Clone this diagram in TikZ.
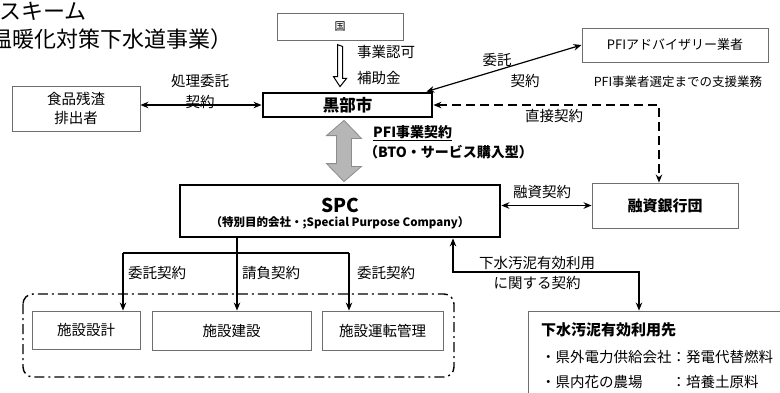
\documentclass[tikz,border=0pt]{standalone}
\usepackage{fontspec}
\setmainfont{Noto Sans CJK JP}
\usetikzlibrary{arrows.meta,calc}
\definecolor{boxline}{RGB}{110,110,110}
\definecolor{gfill}{RGB}{182,182,182}
\definecolor{gedge}{RGB}{140,140,140}
\newcommand{\fsz}[2]{\fontsize{#1pt}{#2pt}\selectfont}

\begin{document}
\begin{tikzpicture}[
		  x=1pt, y=-1pt, >={Stealth[length=8pt,width=6.5pt]},
		  box/.style={draw=boxline, line width=0.9pt, inner sep=0pt, align=center, font=\fsz{14.5}{19}},
		  mainbox/.style={draw=black, line width=2.8pt, inner sep=0pt, align=center},
		  lbl/.style={inner sep=0pt, align=center, font=\fsz{14.5}{19}},
		  conn/.style={line width=1.2pt},
		  dline/.style={line width=2pt, dash pattern=on 9pt off 5pt},
		  ddot/.style={line width=1.4pt, dash pattern=on 10pt off 4pt on 2pt off 4pt, rounded corners=10pt},
		  blockarrow/.style={draw=gedge, fill=gfill, line width=0.8pt},
		  hollowarrow/.style={draw=black, fill=white, line width=1pt}
		]
		\useasboundingbox (0,0) rectangle (780,392);
		
		\node[lbl, anchor=west, font=\fsz{22}{28}] (sk_title) at (-1,11) {スキーム};
		\node[lbl, anchor=west, font=\fsz{22}{28}] (sk_subtitle) at (-10,39) {温暖化対策下水道事業）};
		
		\node[box, minimum width=126pt, minimum height=27pt, font=\fsz{11}{13}] (sk_kuni) at (340,26.5) {国};
		\node[mainbox, minimum width=169pt, minimum height=24pt, font=\fsz{16.5}{18}\bfseries] (sk_city) at (347.5,105) {黒部市};
		\node[box, minimum width=128pt, minimum height=45pt] (sk_waste) at (76,108.5) {食品残渣\\排出者};
		\node[box, minimum width=186pt, minimum height=34pt, font=\fsz{13}{15}] (sk_advisor) at (675,45) {PFIアドバイザリー業者};
		\node[lbl, font=\fsz{12.5}{15}] (sk_advisor_note) at (678,82) {PFI事業者選定までの支援業務};
		\node[mainbox, minimum width=320pt, minimum height=52pt] (sk_spc) at (340,211) {};
		\node[lbl, font=\fsz{19}{20}\bfseries] (sk_spc_name) at (340,205) {SPC};
		\node[lbl, font=\fsz{11.5}{14}\bfseries] (sk_spc_full) at (340,223) {（特別目的会社・;Special Purpose Company）};
		\node[box, minimum width=146pt, minimum height=45pt, font=\fsz{15}{18}\bfseries] (sk_bank) at (665,205.5) {融資銀行団};
		\node[box, minimum width=108pt, minimum height=38pt] (sk_design) at (86,330) {施設設計};
		\node[box, minimum width=159pt, minimum height=39pt] (sk_build) at (231.5,330.5) {施設建設};
		\node[box, minimum width=121pt, minimum height=39pt] (sk_operate) at (382.5,330.5) {施設運転管理};
		\node[box, minimum width=256pt, minimum height=88pt] (sk_reuse) at (656,355) {};
		\node[lbl, anchor=west, font=\fsz{15}{18}\bfseries] (sk_reuse_head) at (541,330) {下水汚泥有効利用先};
		\node[lbl, anchor=west] (sk_reuse_a) at (541,357) {\makebox[9em][l]{・県外電力供給会社}：発電代替燃料};
		\node[lbl, anchor=west] (sk_reuse_b) at (541,382) {\makebox[9em][l]{・県内花の農場}：培養土原料};
		
		\node[lbl, anchor=west] (sk_l_permit) at (357,52) {事業認可};
		\node[lbl, anchor=west] (sk_l_subsidy) at (357,78) {補助金};
		\node[lbl] (sk_l_waste) at (200,92) {処理委託\\[2pt]契約};
		\node[lbl] (sk_l_adv1) at (497,60) {委託};
		\node[lbl] (sk_l_adv2) at (525,81) {契約};
		\node[lbl] (sk_l_direct) at (554,116) {直接契約};
		\node[lbl, anchor=west, font=\fsz{14}{17}\bfseries] (sk_l_pfi) at (373,133) {\underline{PFI事業契約}};
		\node[lbl, anchor=west, font=\fsz{14}{17}\bfseries] (sk_l_bto) at (364,152) {（BTO・サービス購入型）};
		\node[lbl] (sk_l_loan) at (542,192) {融資契約};
		\node[lbl, anchor=west] (sk_l_c1) at (128,273) {委託契約};
		\node[lbl, anchor=west] (sk_l_c2) at (242,273) {請負契約};
		\node[lbl, anchor=west] (sk_l_c3) at (357,273) {委託契約};
		\node[lbl] (sk_l_reuse1) at (537,263) {下水汚泥有効利用};
		\node[lbl] (sk_l_reuse2) at (537,283) {に関する契約};
		
		\coordinate (ha_t) at ([yshift=-6pt]sk_kuni.south);
		\coordinate (ha_b) at ([xshift=-7.5pt,yshift=5pt]sk_city.north);
		\draw[hollowarrow] ([xshift=2.5pt]ha_t) -- ++(0,32) -- ++(4,0) -- (ha_b) -- ++(-6.5,-10) -- ++(4,0) -- ++(0,-32) -- cycle;
		
		\coordinate (ga_t) at ([xshift=-3.5pt,yshift=-2pt]sk_city.south);
		\coordinate (ga_b) at ([xshift=4pt,yshift=2pt]sk_spc.north);
		\draw[blockarrow] (ga_t) -- ++(17.5,18) -- ++(-10,0) -- ++(0,28) -- ++(10,0) -- (ga_b) -- ++(-17.5,-18) -- ++(10,0) -- ++(0,-28) -- ++(-10,0) -- cycle;
		
		\draw[conn,<->] (sk_waste.east |- sk_city.west) -- (sk_city.west);
		\draw[conn,<->] ([xshift=-7pt]sk_city.north east) -- (sk_advisor.west);
		\coordinate (sk_dc) at (659,105);
		\draw[dline,<->] (sk_city.east) -- (sk_dc) -- (sk_dc |- sk_bank.north);
		\draw[conn,<->] (sk_spc.east |- sk_bank.west) -- (sk_bank.west);
		
		\coordinate (sk_t1) at (123,253);
		\coordinate (sk_t2) at (237,253);
		\coordinate (sk_t3) at (349,253);
		\draw[conn,->] (sk_t2 |- sk_spc.south) -- (sk_t2 |- sk_build.north);
		\draw[conn] (sk_t1) -- (sk_t3);
		\draw[conn,->] (sk_t1) -- (sk_t1 |- sk_design.north);
		\draw[conn,->] (sk_t3) -- (sk_t3 |- sk_operate.north);
		\draw[ddot] (23,294) rectangle (454,377);
		
		\coordinate (sk_r1) at (453,272);
		\coordinate (sk_r2) at (639,272);
		\draw[conn,<->] (sk_r1 |- sk_spc.south) -- (sk_r1) -- (sk_r2) -- (sk_r2 |- sk_reuse.north);
		\end{tikzpicture}
\end{document}
